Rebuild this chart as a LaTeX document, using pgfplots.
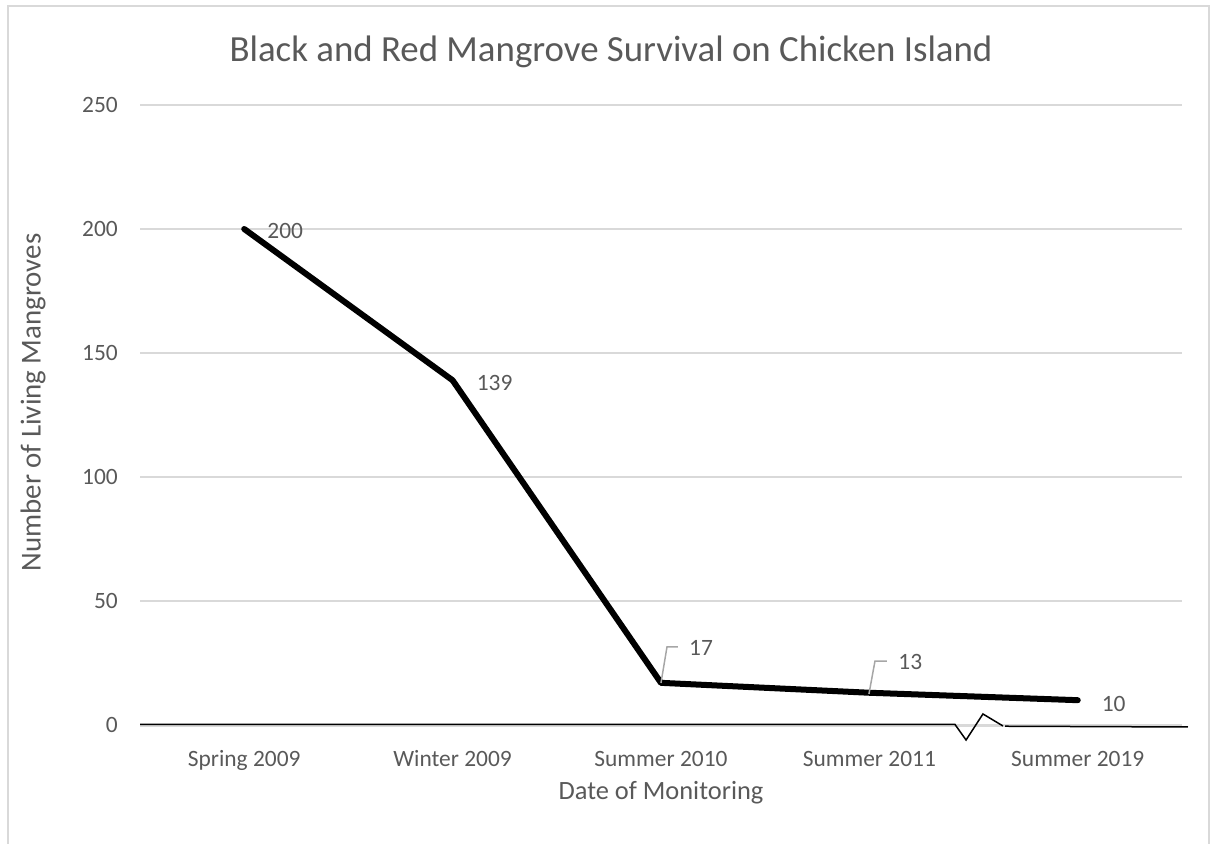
\documentclass[border=0pt]{standalone}
\usepackage{pgfplots}
\pgfplotsset{compat=1.18}
\usepackage{fontspec}
\setmainfont{Carlito}
\definecolor{txt}{HTML}{595959}
\definecolor{gridc}{HTML}{D9D9D9}
\definecolor{lead}{HTML}{A6A6A6}
\begin{document}
\begin{tikzpicture}[x=1bp,y=1bp]
\useasboundingbox (0,0) rectangle (1210,844);
\draw[gridc, line width=1.5bp] (8,0) -- (8,838) -- (1209,838) -- (1209,0);
\node[txt, font=\fontsize{37}{44}\selectfont, anchor=center] at (611,792) {Black and Red Mangrove Survival on Chicken Island};
\node[txt, font=\fontsize{29}{34}\selectfont, rotate=90, anchor=center] at (33,441.5) {Number of Living Mangroves};
\node[txt, font=\fontsize{26.5}{31}\selectfont, anchor=center] at (661,51) {Date of Monitoring};
\begin{axis}[
  scale only axis, width=1042bp, height=620bp,
  at={(140bp,119bp)}, anchor=south west,
  xmin=-0.5, xmax=4.5, ymin=0, ymax=250,
  xtick={0,1,2,3,4},
  xticklabels={Spring 2009,Winter 2009,Summer 2010,Summer 2011,Summer 2019},
  ytick={0,50,100,150,200,250},
  axis line style={draw=none},
  axis x line*=bottom, axis y line*=left,
  major tick length=0pt, tick style={draw=none},
  xmajorgrids=false, ymajorgrids=true,
  major grid style={draw=gridc, line width=1.5bp},
  tick label style={txt, font=\fontsize{23.5}{28}\selectfont},
  xticklabel style={anchor=base, inner sep=0pt, yshift=-41.5bp},
  yticklabel style={anchor=east, inner sep=0pt, xshift=-22bp},
  /pgf/number format/assume math mode=true,
  clip=false,
]
\addplot[gridc, line width=1.5bp] coordinates {(-0.5,-0.6) (4.5,-0.6)};
\addplot[black, line width=1.5bp] coordinates {(-0.5,0.2) (3.411,0.2) (3.464,-6.05) (3.545,4.44) (3.641,-0.4)};
\addplot[black, line width=1.5bp] coordinates {(3.651,-0.5) (4.529,-0.8)};
\addplot[black, line width=6bp, line cap=round, line join=round] coordinates {(0,200) (1,139) (2,17) (3,13) (4,10)};
\addplot[lead, line width=1.5bp] coordinates {(2.0,16.94) (2.0288,31.45) (2.0816,31.45)};
\addplot[lead, line width=1.5bp] coordinates {(2.998,12.5) (3.027,25.8) (3.084,25.8)};
\begin{scope}[every node/.style={txt, font=\fontsize{23.5}{28}\selectfont, inner sep=0pt, anchor=west}]
\node[yshift=-2bp, xshift=23bp] at (axis cs:0,200) {200};
\node[yshift=-3bp, xshift=24bp] at (axis cs:1,139) {139};
\node at (axis cs:2.1344,31.25) {17};
\node at (axis cs:3.1387,25.4) {13};
\node at (axis cs:4.1142,8.47) {10};
\end{scope}
\end{axis}
\end{tikzpicture}
\end{document}
